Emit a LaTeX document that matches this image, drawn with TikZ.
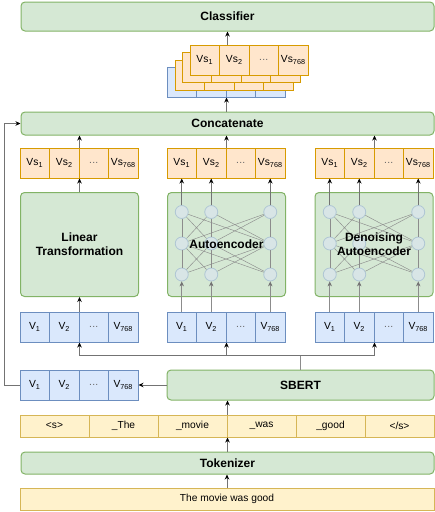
\documentclass[tikz,border=0pt]{standalone}
\usepackage{fontspec}
\setmainfont{Liberation Sans}
\usetikzlibrary{arrows.meta}
\definecolor{gfill}{HTML}{D5E8D4}
\definecolor{gline}{HTML}{82B366}
\definecolor{bfill}{HTML}{DAE8FC}
\definecolor{bline}{HTML}{6C8EBF}
\definecolor{ofill}{HTML}{FFE6CC}
\definecolor{oline}{HTML}{D79B00}
\definecolor{yfill}{HTML}{FFF2CC}
\definecolor{yline}{HTML}{D6B656}
\definecolor{nfill}{HTML}{D8E5E6}
\definecolor{nline}{HTML}{AFC6D4}
\newcommand\vecrow[5]{%
  \node[#4] (#1a) at ({#2+14.75},#3) {#5\textsubscript{1}};
  \node[#4] (#1b) at ({#2+44.25},#3) {#5\textsubscript{2}};
  \node[#4] (#1c) at ({#2+73.75},#3) {\textcolor{black!60}{.\kern0.3pt.\kern0.3pt.}};
  \node[#4] (#1d) at ({#2+103.25},#3) {#5\textsubscript{768}};
}
\newcommand\blankrow[4]{%
  \node[#4] (#1a) at ({#2+14.75},#3) {};
  \node[#4] (#1b) at ({#2+44.25},#3) {};
  \node[#4] (#1c) at ({#2+73.75},#3) {};
  \node[#4] (#1d) at ({#2+103.25},#3) {};
}
\begin{document}
\begin{tikzpicture}[x=1pt,y=-1pt,
 gbox/.style={draw=gline,fill=gfill,rounded corners=4pt,line width=1pt,inner sep=0pt,align=center,font=\bfseries\fontsize{12}{14}\selectfont},
 glabel/.style={inner sep=0pt,align=center,font=\bfseries\fontsize{12}{14}\selectfont},
 cell/.style={minimum width=29.5pt,minimum height=30pt,inner sep=0pt,line width=1pt,font=\fontsize{10.3}{12}\selectfont},
 bcell/.style={cell,draw=bline,fill=bfill},
 ocell/.style={cell,draw=oline,fill=ofill},
 tcell/.style={draw=yline,fill=yfill,line width=1pt,minimum height=22pt,inner sep=0pt,font=\fontsize{10.2}{12}\selectfont},
 neuron/.style={circle,draw=nline,fill=nfill,minimum size=13pt,inner sep=0pt,line width=0.8pt},
 link/.style={draw=black!45,line width=0.45pt},
 arr/.style={draw=black!55,line width=0.7pt,-{Stealth[length=5pt,width=4.5pt,color=black]}},
 garr/.style={draw=black!45,line width=0.7pt,-{Stealth[length=5pt,width=4.5pt,color=black!55]}},
]
\useasboundingbox (0,0) rectangle (435,512);

% classifier and stacked outputs
\node[gbox,minimum width=413pt,minimum height=29pt] (cls) at (227.5,16.5) {Classifier};
\blankrow{sk}{167}{82}{bcell}
\blankrow{sl}{175}{75}{ocell}
\blankrow{sm}{182}{67.5}{ocell}
\vecrow{sf}{190}{60}{ocell}{Vs}

\node[gbox,minimum width=413pt,minimum height=23pt] (cat) at (227.5,123.5) {Concatenate};

% output rows
\vecrow{lo}{20}{163}{ocell}{Vs}
\vecrow{mo}{167}{163}{ocell}{Vs}
\vecrow{ro}{315}{163}{ocell}{Vs}

% green blocks
\node[gbox,minimum width=118pt,minimum height=104pt] (lt) at (79.5,244.5) {Linear\\Transformation};
\node[gbox,minimum width=118pt,minimum height=104pt] (mt) at (226.5,244.5) {};
\node[gbox,minimum width=118pt,minimum height=104pt] (rt) at (374,244.5) {};

% input rows
\vecrow{li}{20}{327}{bcell}{V}
\vecrow{mi}{167}{327}{bcell}{V}
\vecrow{ri}{315}{327}{bcell}{V}

% networks
\foreach \p/\xa/\xb/\xc in {m/181.75/211.25/270.25, r/329.75/359.25/418.25} {
  \foreach \r/\y in {1/212,2/243.5,3/274.5} {
    \node[neuron] (\p\r1) at (\xa,\y) {};
    \node[neuron] (\p\r2) at (\xb,\y) {};
    \node[neuron] (\p\r3) at (\xc,\y) {};
  }
}
\foreach \p in {m,r} {
  \foreach \r/\s in {1/2,2/3} {
    \foreach \a in {1,2,3} {
      \foreach \b in {1,2,3} {
        \draw[link] (\p\r\a) -- (\p\s\b);
      }
    }
  }
}
\node[glabel] (mtl) at (mt) {Autoencoder};
\node[glabel] (rtl) at (rt) {Denoising\\Autoencoder};

\draw[garr] (mia) -- (m31);
\draw[garr] (mib) -- (m32);
\draw[garr] (mid) -- (m33);
\draw[arr] (m11) -- (moa);
\draw[arr] (m12) -- (mob);
\draw[arr] (m13) -- (mod);
\draw[garr] (ria) -- (r31);
\draw[garr] (rib) -- (r32);
\draw[garr] (rid) -- (r33);
\draw[arr] (r11) -- (roa);
\draw[arr] (r12) -- (rob);
\draw[arr] (r13) -- (rod);

% SBERT
\node[gbox,minimum width=267pt,minimum height=30pt] (sbert) at (300.5,385) {SBERT};
\vecrow{sv}{20}{385}{bcell}{V}

% tokens
\node[tcell,minimum width=69pt] (tk1) at (54.5,426) {<s>};
\node[tcell,minimum width=69pt] (tk2) at (123.5,426) {\_The};
\node[tcell,minimum width=69pt] (tk3) at (192.5,426) {\_movie};
\node[tcell,minimum width=69pt] (tk4) at (261.5,426) {\_was};
\node[tcell,minimum width=69pt] (tk5) at (330.5,426) {\_good};
\node[tcell,minimum width=69pt] (tk6) at (399.5,426) {</s>};

\node[gbox,minimum width=413pt,minimum height=22pt] (tok) at (227.5,463) {Tokenizer};
\node[tcell,minimum width=414pt] (sent) at (227,499) {The movie was good};

% connectors
\draw[arr] (sent.north) -- (sent.north |- tok.south);
\draw[arr] (tok.north) -- (tok.north |- tk3.south);
\draw[arr] (tk3.north east) -- (tk3.north east |- sbert.south);
\draw[arr] (sbert.west) -- (svd.east);
\draw[arr] (sva.west) -- ++(-15,0) |- (cat.west);
\coordinate (jn) at (sbert.north |- 0,355);
\draw[link,line width=0.7pt] (sbert.north) -- (jn);
\draw[arr] (jn) -| (lib.south east);
\draw[arr] (jn) -| (mib.south east);
\draw[arr] (jn) -| (rib.south east);
\draw[arr] (lib.north east) -- (lib.north east |- lt.south);
\draw[arr] (lt.north -| lob.south east) -- (lob.south east);
\draw[arr] (lob.north east) -- (lob.north east |- cat.south);
\draw[arr] (mob.north east) -- (mob.north east |- cat.south);
\draw[arr] (rob.north east) -- (rob.north east |- cat.south);
\draw[arr] (cat.north -| skb.south east) -- (skb.south east);
\draw[arr] (sfb.north -| cls.south) -- (cls.south);
\end{tikzpicture}
\end{document}
